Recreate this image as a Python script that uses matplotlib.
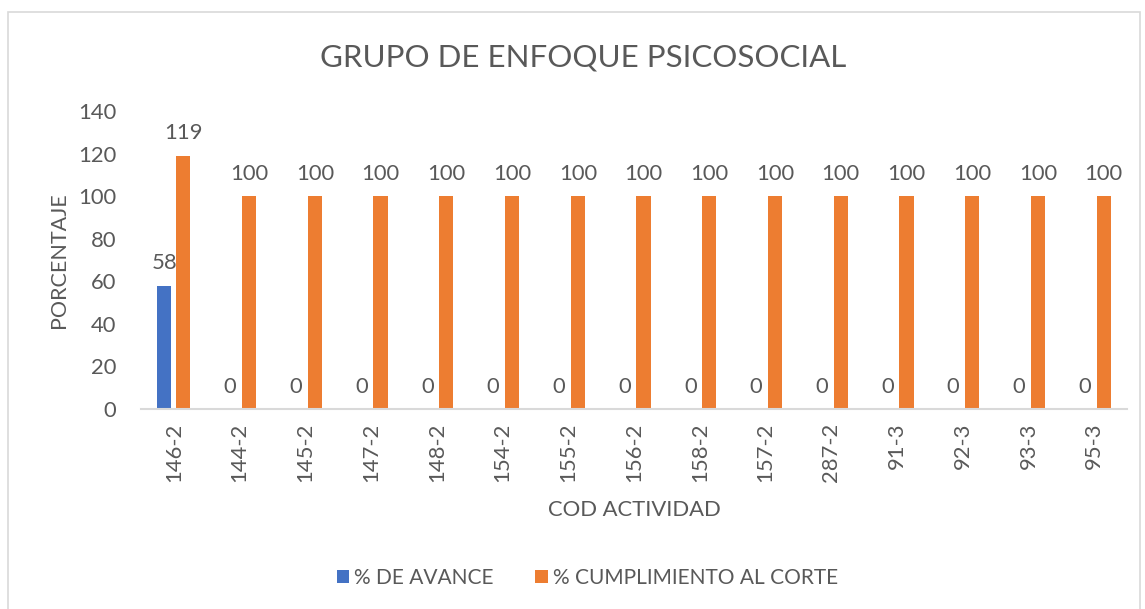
import numpy as np
import matplotlib.pyplot as plt
from matplotlib.patches import Rectangle

plt.rcParams['font.family'] = ['Lato', 'DejaVu Sans']

# datos
codigos = ['146-2', '144-2', '145-2', '147-2', '148-2', '154-2', '155-2', '156-2',
           '158-2', '157-2', '287-2', '91-3', '92-3', '93-3', '95-3']
avance = [58, 0, 0, 0, 0, 0, 0, 0, 0, 0, 0, 0, 0, 0, 0]
cumplimiento = [119, 100, 100, 100, 100, 100, 100, 100, 100, 100, 100, 100, 100, 100, 100]

azul = '#4472C4'
naranja = '#ED7D31'
gris = '#595959'

fig = plt.figure(figsize=(11.45, 6.09), dpi=100)
fig.patches.append(Rectangle((8 / 1145, -0.02), 1132 / 1145, 1 - 12 / 609 + 0.02,
                             transform=fig.transFigure, fill=False,
                             edgecolor='#D9D9D9', linewidth=1.2))
ax = fig.add_axes([0.1231, 0.3284, 0.8612, 0.4893])

x = np.arange(len(codigos))
w = 0.215
b1 = ax.bar(x - 0.145, avance, w, color=azul, label='% DE AVANCE')
b2 = ax.bar(x + 0.145, cumplimiento, w, color=naranja, label='% CUMPLIMIENTO AL CORTE')

ax.bar_label(b1, padding=9, fontsize=15.8, color=gris)
ax.bar_label(b2, padding=9, fontsize=15.8, color=gris)

ax.set_xlim(-0.5, len(codigos) - 0.5)
ax.set_ylim(0, 140)
ax.set_yticks(range(0, 141, 20))
ax.set_xticks(x)
ax.set_xticklabels(codigos, rotation=90)
ax.tick_params(axis='both', length=0, labelsize=15.8, labelcolor=gris)
ax.tick_params(axis='x', pad=10)
ax.tick_params(axis='y', pad=18)

for s in ['top', 'right', 'left']:
    ax.spines[s].set_visible(False)
ax.spines['bottom'].set_color('#D9D9D9')
ax.spines['bottom'].set_linewidth(1.5)

fig.text(0.509, 0.905, 'GRUPO DE ENFOQUE PSICOSOCIAL', fontsize=22.5, color=gris,
         ha='center', va='center')
ax.set_ylabel('PORCENTAJE', fontsize=15.5, color=gris, labelpad=6)
ax.set_xlabel('COD ACTIVIDAD', fontsize=15.8, color=gris, labelpad=13)

fig.legend(loc='center', bbox_to_anchor=(0.513, 0.051), ncol=2, frameon=False,
           fontsize=15, labelcolor=gris, handlelength=0.6, handleheight=0.6,
           handletextpad=0.25, columnspacing=2.0)

fig.savefig('out.png', dpi=100)
